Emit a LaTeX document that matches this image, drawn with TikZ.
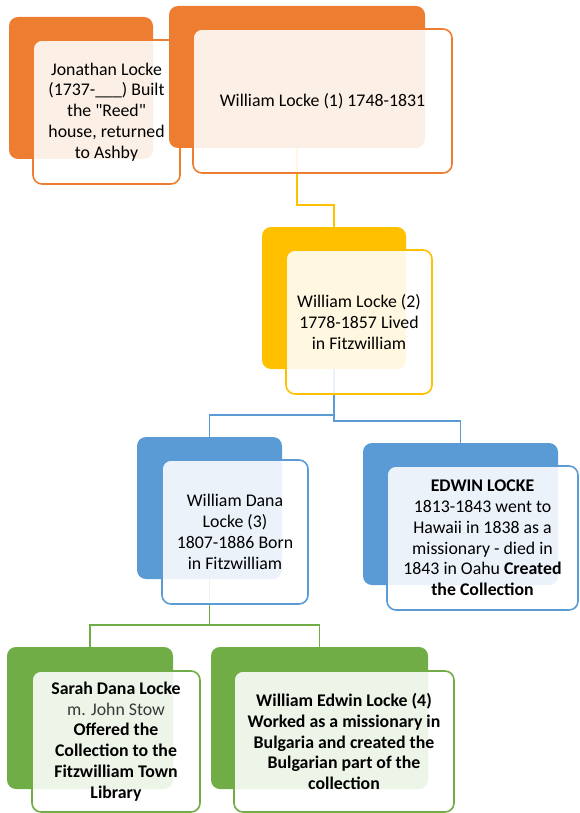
\documentclass[tikz,border=0pt]{standalone}
\usepackage{fontspec}
\setmainfont{Carlito}
\usetikzlibrary{backgrounds}
\definecolor{famorange}{HTML}{ED7D31}
\definecolor{famgold}{HTML}{FFC000}
\definecolor{famblue}{HTML}{5B9BD5}
\definecolor{famgreen}{HTML}{70AD47}

\begin{document}
\begin{tikzpicture}[x=1pt, y=1pt,
  font=\fontsize{17.8}{20.8}\selectfont,
  backbox/.style={fill=#1, rounded corners=9pt, minimum height=142pt, inner sep=0pt},
  frontbox/.style={draw=#1, line width=1.6pt, fill=white, fill opacity=0.88,
    text opacity=1, rounded corners=9pt, minimum height=144pt, align=center, inner sep=0pt},
  link/.style={draw=#1, line width=1.6pt}]

\useasboundingbox (0,0) rectangle (579,-813);

% Top row
\node[backbox=famorange, minimum width=144pt] (jlBack) at (81,-88) {};
\node[frontbox=famorange, minimum width=147pt] (jlFront) at (106.5,-112)
  {Jonathan Locke\\(1737-\_\_\_) Built\\the \textquotedbl Reed\textquotedbl\\house, returned\\to Ashby};
\node[backbox=famorange, minimum width=256pt] (wlOneBack) at (297,-77) {};
\node[frontbox=famorange, minimum width=259pt] (wlOneFront) at (322.5,-101)
  {William Locke (1) 1748-1831};

% Second generation
\node[backbox=famgold, minimum width=144pt] (wlTwoBack) at (334,-298) {};
\node[frontbox=famgold, minimum width=146pt] (wlTwoFront) at (359,-322)
  {William Locke (2)\\1778-1857 Lived\\in Fitzwilliam};

% Third generation
\node[backbox=famblue, minimum width=145pt] (wdlBack) at (209.5,-508) {};
\node[frontbox=famblue, minimum width=146pt] (wdlFront) at (235,-532)
  {William Dana\\Locke (3)\\1807-1886 Born\\in Fitzwilliam};
\node[backbox=famblue, minimum width=195pt] (elBack) at (460.5,-514) {};
\node[frontbox=famblue, minimum width=191pt] (elFront) at (482.5,-538)
  {\textbf{EDWIN LOCKE}\\1813-1843 went to\\Hawaii in 1838 as a\\missionary - died in\\1843 in Oahu \textbf{Created}\\\textbf{the Collection}};

% Fourth generation
\node[backbox=famgreen, minimum width=166pt] (sdlBack) at (90,-718) {};
\node[frontbox=famgreen, minimum width=168pt, minimum height=141pt] (sdlFront) at (116,-741.5)
  {\textbf{Sarah Dana Locke}\\{\color{black!78}m. John Stow}\\\textbf{Offered the}\\\textbf{Collection to the}\\\textbf{Fitzwilliam Town}\\\textbf{Library}};
\node[backbox=famgreen, minimum width=217pt] (welBack) at (319.5,-718) {};
\node[frontbox=famgreen, minimum width=220pt, minimum height=141pt] (welFront) at (344,-741.5)
  {\textbf{William Edwin Locke (4)}\\\textbf{Worked as a missionary in}\\\textbf{Bulgaria and created the}\\\textbf{Bulgarian part of the}\\\textbf{collection}};

% Connectors behind the boxes
\begin{pgfonlayer}{background}
\draw[link=famgold] (wlOneBack.south) -- ++(0,-57) -| (wlTwoBack.north);
\draw[link=famblue] (wlTwoBack.south) -- ++(0,-46) -| (wdlBack.north);
\draw[link=famblue] (wlTwoBack.south) -- ++(0,-52) -| (elBack.north);
\draw[link=famgreen] (wdlBack.south) -- ++(0,-46) -| (sdlBack.north);
\draw[link=famgreen] (wdlBack.south) -- ++(0,-46) -| (welBack.north);
\end{pgfonlayer}

\end{tikzpicture}
\end{document}
